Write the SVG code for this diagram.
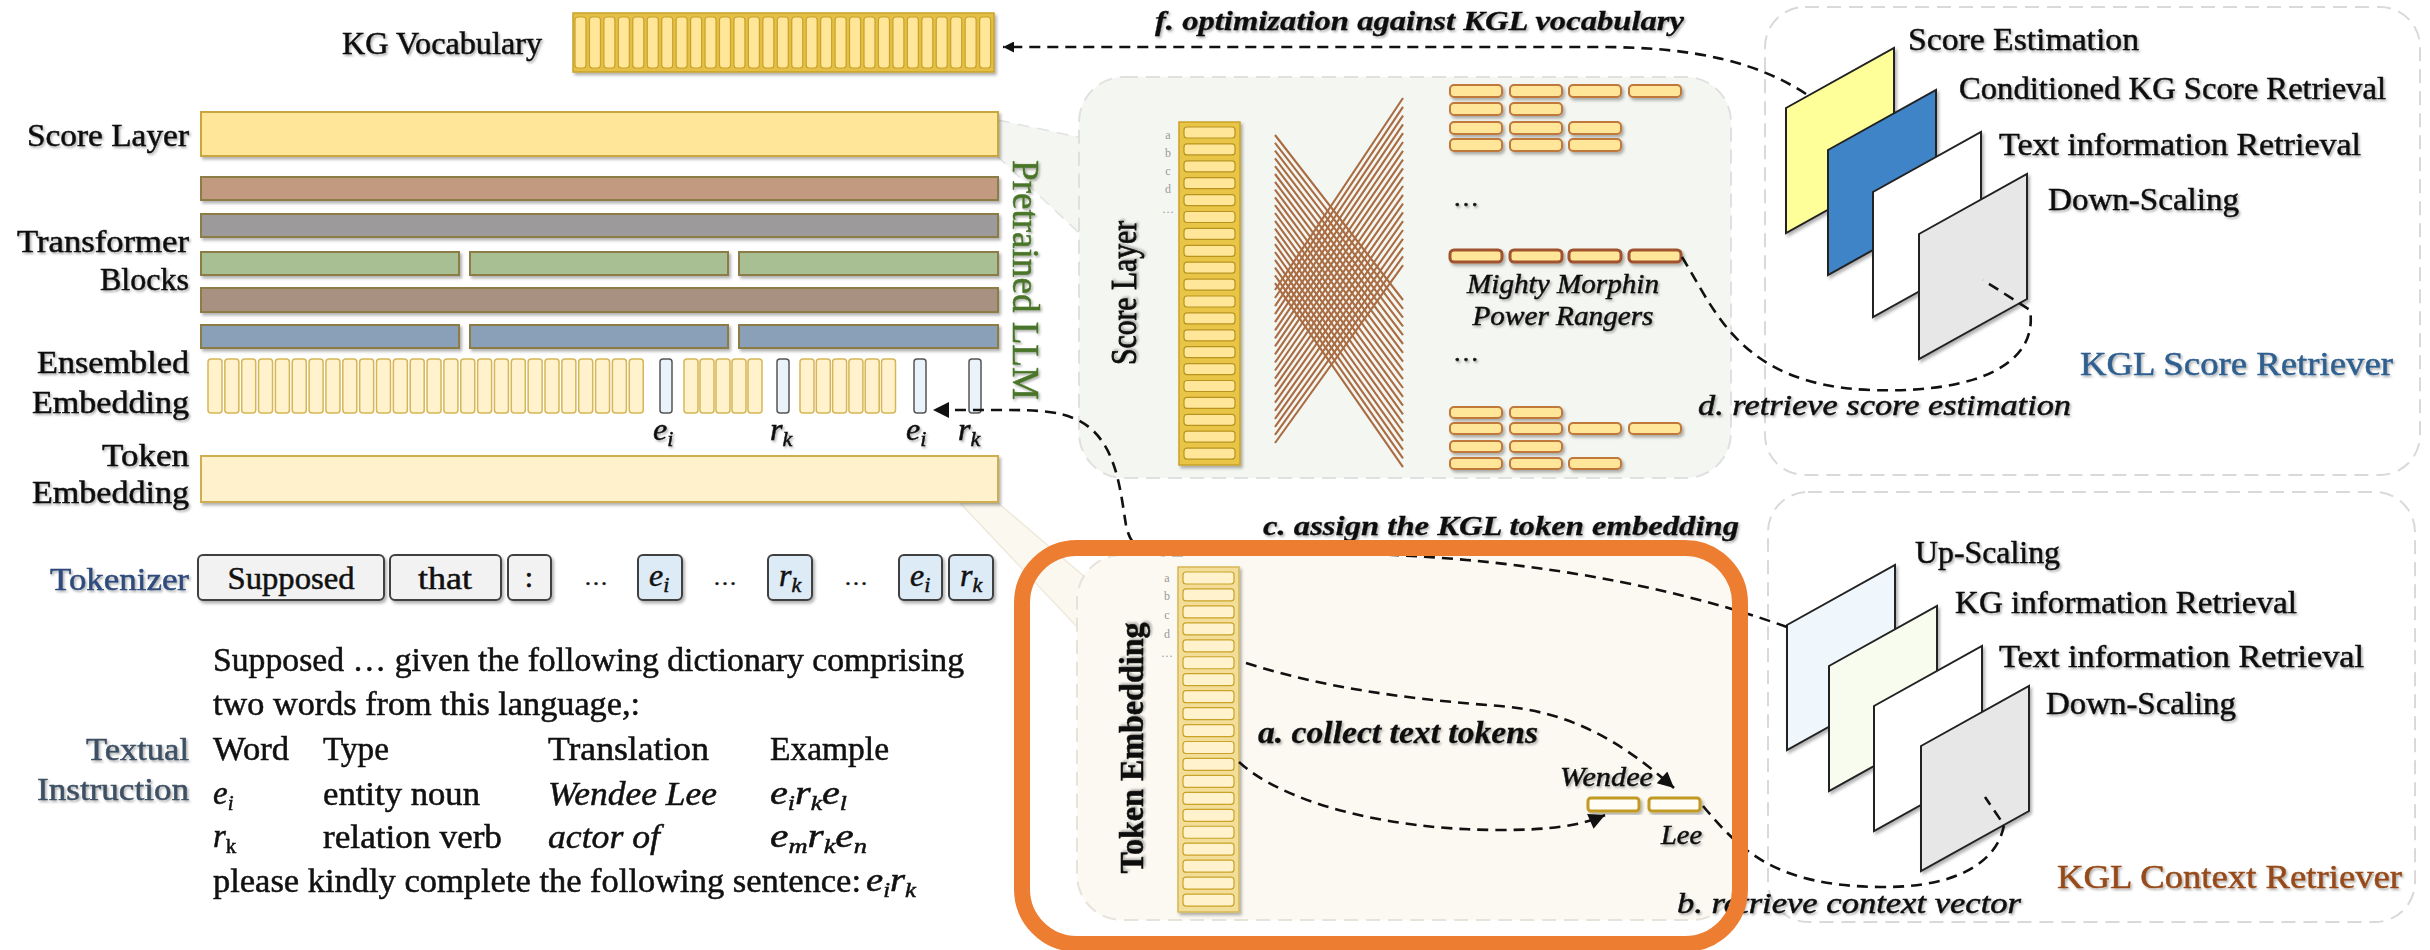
<svg xmlns="http://www.w3.org/2000/svg" width="2430" height="950" viewBox="0 0 2430 950">
<defs>
<style>
text{font-family:"Liberation Serif","Times New Roman",serif;fill:#111;stroke:#111;stroke-width:0.5px;}
.lbl{font-size:31px;text-anchor:end;}
.ins{font-size:33px;}
.it{font-style:italic;}
.sub{font-size:21px;}
.rl{font-size:32px;}
.stepb{font-size:28px;font-style:italic;font-weight:bold;stroke-width:0.3px;}
.step{font-size:29px;font-style:italic;}
.tiny{font-size:12px;fill:#9a9a9a;stroke:none;text-anchor:middle;}
.tb{stroke:#8B7D45;stroke-width:2;}
.vc{fill:#FFE699;stroke:#C9A227;stroke-width:1.2;}
.ec{fill:#FFF2CC;stroke:#D6B656;stroke-width:1.5;}
.wc{fill:#EAF3FA;stroke:#555;stroke-width:1.5;}
.sc{fill:#FFE699;stroke:#B8941F;stroke-width:1.2;}
.tc{fill:#FFF2CC;stroke:#C9A227;stroke-width:1.2;}
.sb{fill:#FFE699;stroke:#C0783A;stroke-width:2;}
.sbd{fill:#FFE699;stroke:#A0522D;stroke-width:3;}
.tk{fill:#F2F2F2;stroke:#404040;stroke-width:2;}
.tkb{fill:#DDEBF7;stroke:#404040;stroke-width:2;}
.pl{stroke:#222;stroke-width:2;}
.dash{fill:none;stroke:#111;stroke-width:2.6;stroke-dasharray:11 7;}
.panel{stroke:#D9D9D9;stroke-width:2;stroke-dasharray:14 8;}
.xl{fill:none;stroke:#A96C43;stroke-width:2.1;}
</style>
<filter id="sh" x="-5%" y="-10%" width="115%" height="140%"><feDropShadow dx="2" dy="2.5" stdDeviation="1.6" flood-color="#000" flood-opacity="0.3"/></filter>
<filter id="tsh" x="-5%" y="-20%" width="115%" height="150%"><feDropShadow dx="1.5" dy="1.8" stdDeviation="1.3" flood-color="#000" flood-opacity="0.32"/></filter>
<marker id="ah" viewBox="0 0 10 10" refX="10" refY="5" markerUnits="userSpaceOnUse" markerWidth="18" markerHeight="16" orient="auto"><path d="M0,0 L10,5 L0,10 z" fill="#111"/></marker>
<marker id="ahs" viewBox="0 0 10 10" refX="10" refY="5" markerUnits="userSpaceOnUse" markerWidth="12" markerHeight="11" orient="auto"><path d="M0,0 L10,5 L0,10 z" fill="#111"/></marker>
</defs>

<rect x="0" y="0" width="2430" height="950" fill="#FFFFFF"/>

<g id="kgl-score-retriever">
<rect class="panel" x="1765" y="7" width="655" height="468" rx="40" fill="#FFFFFF"/>
<g filter="url(#sh)">
<polygon class="pl" points="1786,108 1894,48 1894,173 1786,233" fill="#FFFF9A"/>
<polygon class="pl" points="1828,150 1936,90 1936,215 1828,275" fill="#3F84C8"/>
<polygon class="pl" points="1873,192 1981,132 1981,257 1873,317" fill="#FFFFFF"/>
<polygon class="pl" points="1919,234 2027,174 2027,299 1919,359" fill="#E8E7E7"/>
</g>
<g filter="url(#tsh)">
<text class="rl" x="1908" y="50" textLength="231" lengthAdjust="spacingAndGlyphs">Score Estimation</text>
<text class="rl" x="1959" y="99" textLength="427" lengthAdjust="spacingAndGlyphs">Conditioned KG Score Retrieval</text>
<text class="rl" x="1999" y="155" textLength="362" lengthAdjust="spacingAndGlyphs">Text information Retrieval</text>
<text class="rl" x="2048" y="210" textLength="191" lengthAdjust="spacingAndGlyphs">Down-Scaling</text>
<text x="2080" y="375" font-size="34" style="fill:#2F5F8F;stroke:#2F5F8F" textLength="313" lengthAdjust="spacingAndGlyphs">KGL Score Retriever</text>
</g>
</g>

<g id="kgl-context-retriever">
<rect class="panel" x="1768" y="492" width="647" height="430" rx="40" fill="#FFFFFF"/>
<g filter="url(#sh)">
<polygon class="pl" points="1787,625 1895,565 1895,690 1787,750" fill="#EFF7FD"/>
<polygon class="pl" points="1829,666 1937,606 1937,731 1829,791" fill="#F7FCEE"/>
<polygon class="pl" points="1874,706 1982,646 1982,771 1874,831" fill="#FFFFFF"/>
<polygon class="pl" points="1921,746 2029,686 2029,811 1921,871" fill="#E8E7E7"/>
</g>
<g filter="url(#tsh)">
<text class="rl" x="1915" y="563" textLength="145" lengthAdjust="spacingAndGlyphs">Up-Scaling</text>
<text class="rl" x="1955" y="613" textLength="342" lengthAdjust="spacingAndGlyphs">KG information Retrieval</text>
<text class="rl" x="1999" y="667" textLength="365" lengthAdjust="spacingAndGlyphs">Text information Retrieval</text>
<text class="rl" x="2046" y="714" textLength="190" lengthAdjust="spacingAndGlyphs">Down-Scaling</text>
<text x="2057" y="888" font-size="34" style="fill:#964A1A;stroke:#964A1A" textLength="345" lengthAdjust="spacingAndGlyphs">KGL Context Retriever</text>
</g>
</g>

<g id="score-layer-panel">
<polygon points="998,120 1092,140 1092,245 998,157" fill="#F4F6F1" stroke="#E2E2E2" stroke-width="1.5" stroke-dasharray="12 8"/>
<rect class="panel" x="1079" y="77" width="652" height="401" rx="45" fill="#F4F6F1" style="stroke:#E0E0E0"/>
<text x="0" y="0" font-size="36" text-anchor="middle" transform="translate(1136,293) rotate(-90)" style="stroke-width:0.8px" textLength="144" lengthAdjust="spacingAndGlyphs" filter="url(#tsh)">Score Layer</text>
<text class="tiny" x="1168" y="139">a</text>
<text class="tiny" x="1168" y="157">b</text>
<text class="tiny" x="1168" y="175">c</text>
<text class="tiny" x="1168" y="193">d</text>
<text class="tiny" x="1168" y="213">…</text>
<rect x="1179" y="122" width="61" height="343" fill="#E8C547" stroke="#C9A227" stroke-width="1.5" filter="url(#sh)"/>
<rect class="sc" x="1184" y="127" width="51" height="11" rx="3"/>
<rect class="sc" x="1184" y="143.9" width="51" height="11" rx="3"/>
<rect class="sc" x="1184" y="160.8" width="51" height="11" rx="3"/>
<rect class="sc" x="1184" y="177.7" width="51" height="11" rx="3"/>
<rect class="sc" x="1184" y="194.6" width="51" height="11" rx="3"/>
<rect class="sc" x="1184" y="211.5" width="51" height="11" rx="3"/>
<rect class="sc" x="1184" y="228.4" width="51" height="11" rx="3"/>
<rect class="sc" x="1184" y="245.3" width="51" height="11" rx="3"/>
<rect class="sc" x="1184" y="262.2" width="51" height="11" rx="3"/>
<rect class="sc" x="1184" y="279.1" width="51" height="11" rx="3"/>
<rect class="sc" x="1184" y="296" width="51" height="11" rx="3"/>
<rect class="sc" x="1184" y="312.9" width="51" height="11" rx="3"/>
<rect class="sc" x="1184" y="329.8" width="51" height="11" rx="3"/>
<rect class="sc" x="1184" y="346.7" width="51" height="11" rx="3"/>
<rect class="sc" x="1184" y="363.6" width="51" height="11" rx="3"/>
<rect class="sc" x="1184" y="380.5" width="51" height="11" rx="3"/>
<rect class="sc" x="1184" y="397.4" width="51" height="11" rx="3"/>
<rect class="sc" x="1184" y="414.3" width="51" height="11" rx="3"/>
<rect class="sc" x="1184" y="431.2" width="51" height="11" rx="3"/>
<rect class="sc" x="1184" y="448.1" width="51" height="11" rx="3"/>
<path class="xl" d="M1275,135L1403,300 M1275,142.8L1403,308.8 M1275,150.6L1403,317.6 M1275,158.4L1403,326.4 M1275,166.2L1403,335.2 M1275,174L1403,344 M1275,181.8L1403,352.8 M1275,189.6L1403,361.6 M1275,197.4L1403,370.4 M1275,205.2L1403,379.2 M1275,213L1403,388 M1275,220.8L1403,396.8 M1275,228.6L1403,405.6 M1275,236.4L1403,414.4 M1275,244.2L1403,423.2 M1275,252L1403,432 M1275,259.8L1403,440.8 M1275,267.6L1403,449.6 M1275,275.4L1403,458.4 M1275,283.2L1403,467.2"/>
<path class="xl" d="M1275,290L1403,98 M1275,298L1403,106.8 M1275,306.1L1403,115.6 M1275,314.2L1403,124.4 M1275,322.2L1403,133.2 M1275,330.3L1403,142 M1275,338.3L1403,150.8 M1275,346.4L1403,159.6 M1275,354.4L1403,168.4 M1275,362.5L1403,177.2 M1275,370.5L1403,186 M1275,378.6L1403,194.8 M1275,386.6L1403,203.6 M1275,394.7L1403,212.4 M1275,402.7L1403,221.2 M1275,410.8L1403,230 M1275,418.8L1403,238.8 M1275,426.9L1403,247.6 M1275,434.9L1403,256.4 M1275,443L1403,265.2"/>
<g filter="url(#sh)">
<rect class="sb" x="1450" y="85" width="52" height="12" rx="4"/><rect class="sb" x="1510" y="85" width="52" height="12" rx="4"/><rect class="sb" x="1569" y="85" width="52" height="12" rx="4"/><rect class="sb" x="1629" y="85" width="52" height="12" rx="4"/>
<rect class="sb" x="1450" y="103" width="52" height="12" rx="4"/><rect class="sb" x="1510" y="103" width="52" height="12" rx="4"/>
<rect class="sb" x="1450" y="122" width="52" height="12" rx="4"/><rect class="sb" x="1510" y="122" width="52" height="12" rx="4"/><rect class="sb" x="1569" y="122" width="52" height="12" rx="4"/>
<rect class="sb" x="1450" y="139" width="52" height="12" rx="4"/><rect class="sb" x="1510" y="139" width="52" height="12" rx="4"/><rect class="sb" x="1569" y="139" width="52" height="12" rx="4"/>
<rect class="sbd" x="1450" y="250" width="52" height="12" rx="4"/><rect class="sbd" x="1510" y="250" width="52" height="12" rx="4"/><rect class="sbd" x="1569" y="250" width="52" height="12" rx="4"/><rect class="sbd" x="1629" y="250" width="52" height="12" rx="4"/>
<rect class="sb" x="1450" y="407" width="52" height="11" rx="4"/><rect class="sb" x="1510" y="407" width="52" height="11" rx="4"/>
<rect class="sb" x="1450" y="423" width="52" height="11" rx="4"/><rect class="sb" x="1510" y="423" width="52" height="11" rx="4"/><rect class="sb" x="1569" y="423" width="52" height="11" rx="4"/><rect class="sb" x="1629" y="423" width="52" height="11" rx="4"/>
<rect class="sb" x="1450" y="441" width="52" height="11" rx="4"/><rect class="sb" x="1510" y="441" width="52" height="11" rx="4"/>
<rect class="sb" x="1450" y="458" width="52" height="11" rx="4"/><rect class="sb" x="1510" y="458" width="52" height="11" rx="4"/><rect class="sb" x="1569" y="458" width="52" height="11" rx="4"/>
</g>
<g filter="url(#tsh)">
<text x="1453" y="206" font-size="26">…</text>
<text x="1453" y="361" font-size="26">…</text>
<text class="it" x="1563" y="293" font-size="28" text-anchor="middle" textLength="192" lengthAdjust="spacingAndGlyphs">Mighty Morphin</text>
<text class="it" x="1563" y="325" font-size="28" text-anchor="middle" textLength="181" lengthAdjust="spacingAndGlyphs">Power Rangers</text>
</g>
</g>

<g id="token-embedding-panel">
<polygon points="960,503 998,503 1100,590 1080,630" fill="#FBF8EF" stroke="#EEE9DC" stroke-width="1.5"/>
<rect class="panel" x="1077" y="555" width="660" height="365" rx="45" fill="#FBF9F2" style="stroke:#E6E3DA"/>
<text x="0" y="0" font-size="34" font-weight="bold" text-anchor="middle" transform="translate(1143,748) rotate(-90)" textLength="251" lengthAdjust="spacingAndGlyphs" filter="url(#tsh)">Token Embedding</text>
<text class="tiny" x="1167" y="582">a</text>
<text class="tiny" x="1167" y="600">b</text>
<text class="tiny" x="1167" y="619">c</text>
<text class="tiny" x="1167" y="638">d</text>
<text class="tiny" x="1167" y="657">…</text>
<rect x="1178" y="567" width="61" height="345" fill="#F2DE98" stroke="#D6B656" stroke-width="1.5" filter="url(#sh)"/>
<rect class="tc" x="1183" y="572" width="51" height="12" rx="3"/>
<rect class="tc" x="1183" y="588.95" width="51" height="12" rx="3"/>
<rect class="tc" x="1183" y="605.9" width="51" height="12" rx="3"/>
<rect class="tc" x="1183" y="622.85" width="51" height="12" rx="3"/>
<rect class="tc" x="1183" y="639.8" width="51" height="12" rx="3"/>
<rect class="tc" x="1183" y="656.75" width="51" height="12" rx="3"/>
<rect class="tc" x="1183" y="673.7" width="51" height="12" rx="3"/>
<rect class="tc" x="1183" y="690.65" width="51" height="12" rx="3"/>
<rect class="tc" x="1183" y="707.6" width="51" height="12" rx="3"/>
<rect class="tc" x="1183" y="724.55" width="51" height="12" rx="3"/>
<rect class="tc" x="1183" y="741.5" width="51" height="12" rx="3"/>
<rect class="tc" x="1183" y="758.45" width="51" height="12" rx="3"/>
<rect class="tc" x="1183" y="775.4" width="51" height="12" rx="3"/>
<rect class="tc" x="1183" y="792.35" width="51" height="12" rx="3"/>
<rect class="tc" x="1183" y="809.3" width="51" height="12" rx="3"/>
<rect class="tc" x="1183" y="826.25" width="51" height="12" rx="3"/>
<rect class="tc" x="1183" y="843.2" width="51" height="12" rx="3"/>
<rect class="tc" x="1183" y="860.15" width="51" height="12" rx="3"/>
<rect class="tc" x="1183" y="877.1" width="51" height="12" rx="3"/>
<rect class="tc" x="1183" y="894.05" width="51" height="12" rx="3"/>
<g filter="url(#sh)">
<rect x="1588" y="798" width="51" height="13" rx="3" fill="#FFFDF6" stroke="#C09A20" stroke-width="3"/>
<rect x="1649" y="798" width="51" height="13" rx="3" fill="#FFFDF6" stroke="#C09A20" stroke-width="3"/>
</g>
<g filter="url(#tsh)">
<text class="it" x="1560" y="786" font-size="27" textLength="93" lengthAdjust="spacingAndGlyphs">Wendee</text>
<text class="it" x="1661" y="844" font-size="28" textLength="41" lengthAdjust="spacingAndGlyphs">Lee</text>
</g>
</g>

<g id="kg-vocabulary">
<text class="lbl" x="542" y="54" textLength="200" lengthAdjust="spacingAndGlyphs" filter="url(#tsh)">KG Vocabulary</text>
<rect x="573" y="13" width="421" height="59" fill="#E4C04A" stroke="#C9A227" stroke-width="1.5" filter="url(#sh)"/>
<rect class="vc" x="575" y="17" width="11" height="51" rx="3"/><rect class="vc" x="589.45" y="17" width="11" height="51" rx="3"/><rect class="vc" x="603.9" y="17" width="11" height="51" rx="3"/><rect class="vc" x="618.35" y="17" width="11" height="51" rx="3"/><rect class="vc" x="632.8" y="17" width="11" height="51" rx="3"/><rect class="vc" x="647.25" y="17" width="11" height="51" rx="3"/><rect class="vc" x="661.7" y="17" width="11" height="51" rx="3"/><rect class="vc" x="676.15" y="17" width="11" height="51" rx="3"/><rect class="vc" x="690.6" y="17" width="11" height="51" rx="3"/><rect class="vc" x="705.05" y="17" width="11" height="51" rx="3"/><rect class="vc" x="719.5" y="17" width="11" height="51" rx="3"/><rect class="vc" x="733.95" y="17" width="11" height="51" rx="3"/><rect class="vc" x="748.4" y="17" width="11" height="51" rx="3"/><rect class="vc" x="762.85" y="17" width="11" height="51" rx="3"/><rect class="vc" x="777.3" y="17" width="11" height="51" rx="3"/><rect class="vc" x="791.75" y="17" width="11" height="51" rx="3"/><rect class="vc" x="806.2" y="17" width="11" height="51" rx="3"/><rect class="vc" x="820.65" y="17" width="11" height="51" rx="3"/><rect class="vc" x="835.1" y="17" width="11" height="51" rx="3"/><rect class="vc" x="849.55" y="17" width="11" height="51" rx="3"/><rect class="vc" x="864" y="17" width="11" height="51" rx="3"/><rect class="vc" x="878.45" y="17" width="11" height="51" rx="3"/><rect class="vc" x="892.9" y="17" width="11" height="51" rx="3"/><rect class="vc" x="907.35" y="17" width="11" height="51" rx="3"/><rect class="vc" x="921.8" y="17" width="11" height="51" rx="3"/><rect class="vc" x="936.25" y="17" width="11" height="51" rx="3"/><rect class="vc" x="950.7" y="17" width="11" height="51" rx="3"/><rect class="vc" x="965.15" y="17" width="11" height="51" rx="3"/><rect class="vc" x="979.6" y="17" width="11" height="51" rx="3"/>
</g>

<g id="llm-stack">
<g filter="url(#tsh)">
<text class="lbl" x="189" y="146" textLength="162" lengthAdjust="spacingAndGlyphs">Score Layer</text>
<text class="lbl" x="189" y="252" textLength="172" lengthAdjust="spacingAndGlyphs">Transformer</text>
<text class="lbl" x="189" y="290" textLength="89" lengthAdjust="spacingAndGlyphs">Blocks</text>
<text class="lbl" x="189" y="373" textLength="152" lengthAdjust="spacingAndGlyphs">Ensembled</text>
<text class="lbl" x="189" y="413" textLength="157" lengthAdjust="spacingAndGlyphs">Embedding</text>
<text class="lbl" x="189" y="466" textLength="87" lengthAdjust="spacingAndGlyphs">Token</text>
<text class="lbl" x="189" y="503" textLength="157" lengthAdjust="spacingAndGlyphs">Embedding</text>
<text x="0" y="0" font-size="37" text-anchor="middle" transform="translate(1013,280) rotate(90)" style="fill:#4A7529;stroke:#4A7529" textLength="240" lengthAdjust="spacingAndGlyphs">Pretrained LLM</text>
</g>
<g filter="url(#sh)">
<rect x="201" y="112" width="797" height="44" fill="#FFE699" stroke="#C9A640" stroke-width="2"/>
<rect class="tb" x="201" y="177" width="797" height="23" fill="#C19A80"/>
<rect class="tb" x="201" y="214" width="797" height="23" fill="#9C9A9A"/>
<rect class="tb" x="201" y="252" width="258" height="23" fill="#A8BF94"/>
<rect class="tb" x="470" y="252" width="258" height="23" fill="#A8BF94"/>
<rect class="tb" x="739" y="252" width="259" height="23" fill="#A8BF94"/>
<rect class="tb" x="201" y="288" width="797" height="24" fill="#A89181"/>
<rect class="tb" x="201" y="325" width="258" height="23" fill="#8AA0B8"/>
<rect class="tb" x="470" y="325" width="258" height="23" fill="#8AA0B8"/>
<rect class="tb" x="739" y="325" width="259" height="23" fill="#8AA0B8"/>
<rect x="201" y="456" width="797" height="46" fill="#FFF1CC" stroke="#CFAE50" stroke-width="2"/>
</g>
</g>

<g id="ensembled-embedding">
<rect class="ec" x="208" y="359" width="14" height="54" rx="3"/><rect class="ec" x="224.85" y="359" width="14" height="54" rx="3"/><rect class="ec" x="241.7" y="359" width="14" height="54" rx="3"/><rect class="ec" x="258.55" y="359" width="14" height="54" rx="3"/><rect class="ec" x="275.4" y="359" width="14" height="54" rx="3"/><rect class="ec" x="292.25" y="359" width="14" height="54" rx="3"/><rect class="ec" x="309.1" y="359" width="14" height="54" rx="3"/><rect class="ec" x="325.95" y="359" width="14" height="54" rx="3"/><rect class="ec" x="342.8" y="359" width="14" height="54" rx="3"/><rect class="ec" x="359.65" y="359" width="14" height="54" rx="3"/><rect class="ec" x="376.5" y="359" width="14" height="54" rx="3"/><rect class="ec" x="393.35" y="359" width="14" height="54" rx="3"/><rect class="ec" x="410.2" y="359" width="14" height="54" rx="3"/><rect class="ec" x="427.05" y="359" width="14" height="54" rx="3"/><rect class="ec" x="443.9" y="359" width="14" height="54" rx="3"/><rect class="ec" x="460.75" y="359" width="14" height="54" rx="3"/><rect class="ec" x="477.6" y="359" width="14" height="54" rx="3"/><rect class="ec" x="494.45" y="359" width="14" height="54" rx="3"/><rect class="ec" x="511.3" y="359" width="14" height="54" rx="3"/><rect class="ec" x="528.15" y="359" width="14" height="54" rx="3"/><rect class="ec" x="545" y="359" width="14" height="54" rx="3"/><rect class="ec" x="561.85" y="359" width="14" height="54" rx="3"/><rect class="ec" x="578.7" y="359" width="14" height="54" rx="3"/><rect class="ec" x="595.55" y="359" width="14" height="54" rx="3"/><rect class="ec" x="612.4" y="359" width="14" height="54" rx="3"/><rect class="ec" x="629.25" y="359" width="14" height="54" rx="3"/>
<rect class="wc" x="660" y="359" width="12" height="54" rx="3"/>
<rect class="ec" x="684" y="359" width="14" height="54" rx="3"/><rect class="ec" x="700" y="359" width="14" height="54" rx="3"/><rect class="ec" x="716" y="359" width="14" height="54" rx="3"/><rect class="ec" x="732" y="359" width="14" height="54" rx="3"/><rect class="ec" x="748" y="359" width="14" height="54" rx="3"/>
<rect class="wc" x="777" y="359" width="12" height="54" rx="3"/>
<rect class="ec" x="800" y="359" width="14" height="54" rx="3"/><rect class="ec" x="816.3" y="359" width="14" height="54" rx="3"/><rect class="ec" x="832.6" y="359" width="14" height="54" rx="3"/><rect class="ec" x="848.9" y="359" width="14" height="54" rx="3"/><rect class="ec" x="865.2" y="359" width="14" height="54" rx="3"/><rect class="ec" x="881.5" y="359" width="14" height="54" rx="3"/>
<rect class="wc" x="914" y="359" width="12" height="54" rx="3"/>
<rect class="wc" x="969" y="359" width="12" height="54" rx="3"/>
<g filter="url(#tsh)" font-size="32">
<text class="it" x="653" y="440">e<tspan font-size="22" dy="6">i</tspan></text>
<text class="it" x="770" y="440">r<tspan font-size="22" dy="6">k</tspan></text>
<text class="it" x="906" y="440">e<tspan font-size="22" dy="6">i</tspan></text>
<text class="it" x="958" y="440">r<tspan font-size="22" dy="6">k</tspan></text>
</g>
</g>

<g id="tokenizer">
<text class="lbl" x="189" y="590" textLength="139" lengthAdjust="spacingAndGlyphs" style="fill:#2F4B7C;stroke:#2F4B7C" filter="url(#tsh)">Tokenizer</text>
<g filter="url(#sh)">
<rect class="tk" x="198" y="555" width="186" height="45" rx="5"/>
<rect class="tk" x="390" y="555" width="111" height="45" rx="5"/>
<rect class="tk" x="508" y="555" width="43" height="45" rx="5"/>
<rect class="tkb" x="638" y="555" width="44" height="45" rx="5"/>
<rect class="tkb" x="768" y="555" width="44" height="45" rx="5"/>
<rect class="tkb" x="899" y="555" width="43" height="45" rx="5"/>
<rect class="tkb" x="949" y="555" width="44" height="45" rx="5"/>
</g>
<text x="291" y="589" font-size="32" text-anchor="middle" textLength="127" lengthAdjust="spacingAndGlyphs">Supposed</text>
<text x="445" y="589" font-size="32" text-anchor="middle" textLength="54" lengthAdjust="spacingAndGlyphs">that</text>
<text x="529" y="587" font-size="30" text-anchor="middle">:</text>
<text x="596" y="585" font-size="24" text-anchor="middle">…</text>
<text x="725" y="585" font-size="24" text-anchor="middle">…</text>
<text x="856" y="585" font-size="24" text-anchor="middle">…</text>
<text class="it" x="649" y="586" font-size="32">e<tspan font-size="22" dy="6">i</tspan></text>
<text class="it" x="779" y="586" font-size="32">r<tspan font-size="22" dy="6">k</tspan></text>
<text class="it" x="910" y="586" font-size="32">e<tspan font-size="22" dy="6">i</tspan></text>
<text class="it" x="960" y="586" font-size="32">r<tspan font-size="22" dy="6">k</tspan></text>
</g>

<g id="textual-instruction">
<g filter="url(#tsh)">
<text class="lbl" x="189" y="760" textLength="103" lengthAdjust="spacingAndGlyphs" style="fill:#3E5064;stroke:#3E5064">Textual</text>
<text class="lbl" x="189" y="800" textLength="152" lengthAdjust="spacingAndGlyphs" style="fill:#3E5064;stroke:#3E5064">Instruction</text>
</g>
<text class="ins" x="213" y="671" textLength="751" lengthAdjust="spacingAndGlyphs">Supposed … given the following dictionary comprising</text>
<text class="ins" x="213" y="715" textLength="427" lengthAdjust="spacingAndGlyphs">two words from this language,:</text>
<text class="ins" x="213" y="760" textLength="76" lengthAdjust="spacingAndGlyphs">Word</text>
<text class="ins" x="323" y="760" textLength="66" lengthAdjust="spacingAndGlyphs">Type</text>
<text class="ins" x="548" y="760" textLength="161" lengthAdjust="spacingAndGlyphs">Translation</text>
<text class="ins" x="770" y="760" textLength="119" lengthAdjust="spacingAndGlyphs">Example</text>
<text class="ins it" x="213" y="804">e<tspan class="sub" dy="6">i</tspan></text>
<text class="ins" x="323" y="805" textLength="157" lengthAdjust="spacingAndGlyphs">entity noun</text>
<text class="ins it" x="548" y="805" textLength="169" lengthAdjust="spacingAndGlyphs">Wendee Lee</text>
<text class="ins it" x="770" y="804" textLength="77" lengthAdjust="spacingAndGlyphs">e<tspan class="sub" dy="6">i</tspan><tspan dy="-6">r</tspan><tspan class="sub" dy="6">k</tspan><tspan dy="-6">e</tspan><tspan class="sub" dy="6">l</tspan></text>
<text class="ins" x="213" y="847"><tspan font-style="italic">r</tspan><tspan class="sub" dy="6">k</tspan></text>
<text class="ins" x="323" y="848" textLength="179" lengthAdjust="spacingAndGlyphs">relation verb</text>
<text class="ins it" x="548" y="848" textLength="112" lengthAdjust="spacingAndGlyphs">actor of</text>
<text class="ins it" x="770" y="847" textLength="97" lengthAdjust="spacingAndGlyphs">e<tspan class="sub" dy="6">m</tspan><tspan dy="-6">r</tspan><tspan class="sub" dy="6">k</tspan><tspan dy="-6">e</tspan><tspan class="sub" dy="6">n</tspan></text>
<text class="ins" x="213" y="892" textLength="648" lengthAdjust="spacingAndGlyphs">please kindly complete the following sentence:</text>
<text class="ins it" x="866" y="891" textLength="50" lengthAdjust="spacingAndGlyphs">e<tspan class="sub" dy="6">i</tspan><tspan dy="-6">r</tspan><tspan class="sub" dy="6">k</tspan></text>
</g>

<g id="connectors">
<path class="dash" d="M1806,94 C1760,64 1700,47 1600,47 L1003,47" marker-end="url(#ahs)"/>
<path class="dash" d="M1787,627 C1650,578 1480,552 1300,553 L1172,555 C1140,556 1130,545 1126,525 C1120,490 1117,440 1078,420 C1058,411 1040,410 1000,410 L933,410" marker-end="url(#ah)"/>
<path class="dash" d="M1246,663 C1330,690 1420,700 1500,706 C1570,712 1620,740 1674,788" marker-end="url(#ah)"/>
<path class="dash" d="M1239,762 C1280,800 1380,830 1500,830 C1550,830 1580,826 1605,815" marker-end="url(#ah)"/>
<path class="dash" d="M1682,257 C1715,310 1740,385 1870,390 C1985,394 2038,360 2030,310 L1983,280"/>
<path class="dash" d="M1703,806 C1740,850 1775,886 1880,887 C1960,888 1998,860 2004,825 L1985,797"/>
<g filter="url(#tsh)">
<text class="stepb" x="1155" y="30" textLength="529" lengthAdjust="spacingAndGlyphs">f. optimization against KGL vocabulary</text>
<text class="stepb" x="1263" y="535" textLength="476" lengthAdjust="spacingAndGlyphs">c. assign the KGL token embedding</text>
<text class="it" x="1258" y="743" font-size="31" font-weight="bold" style="stroke-width:0.3px" textLength="280" lengthAdjust="spacingAndGlyphs">a. collect text tokens</text>
<text class="step" x="1698" y="415" textLength="373" lengthAdjust="spacingAndGlyphs">d. retrieve score estimation</text>
<text class="step" x="1677" y="913" textLength="344" lengthAdjust="spacingAndGlyphs">b. retrieve context vector</text>
</g>
</g>

<g id="highlight">
<rect x="1022" y="548" width="718" height="396" rx="55" fill="none" stroke="#ED7D31" stroke-width="16"/>
</g>
</svg>
